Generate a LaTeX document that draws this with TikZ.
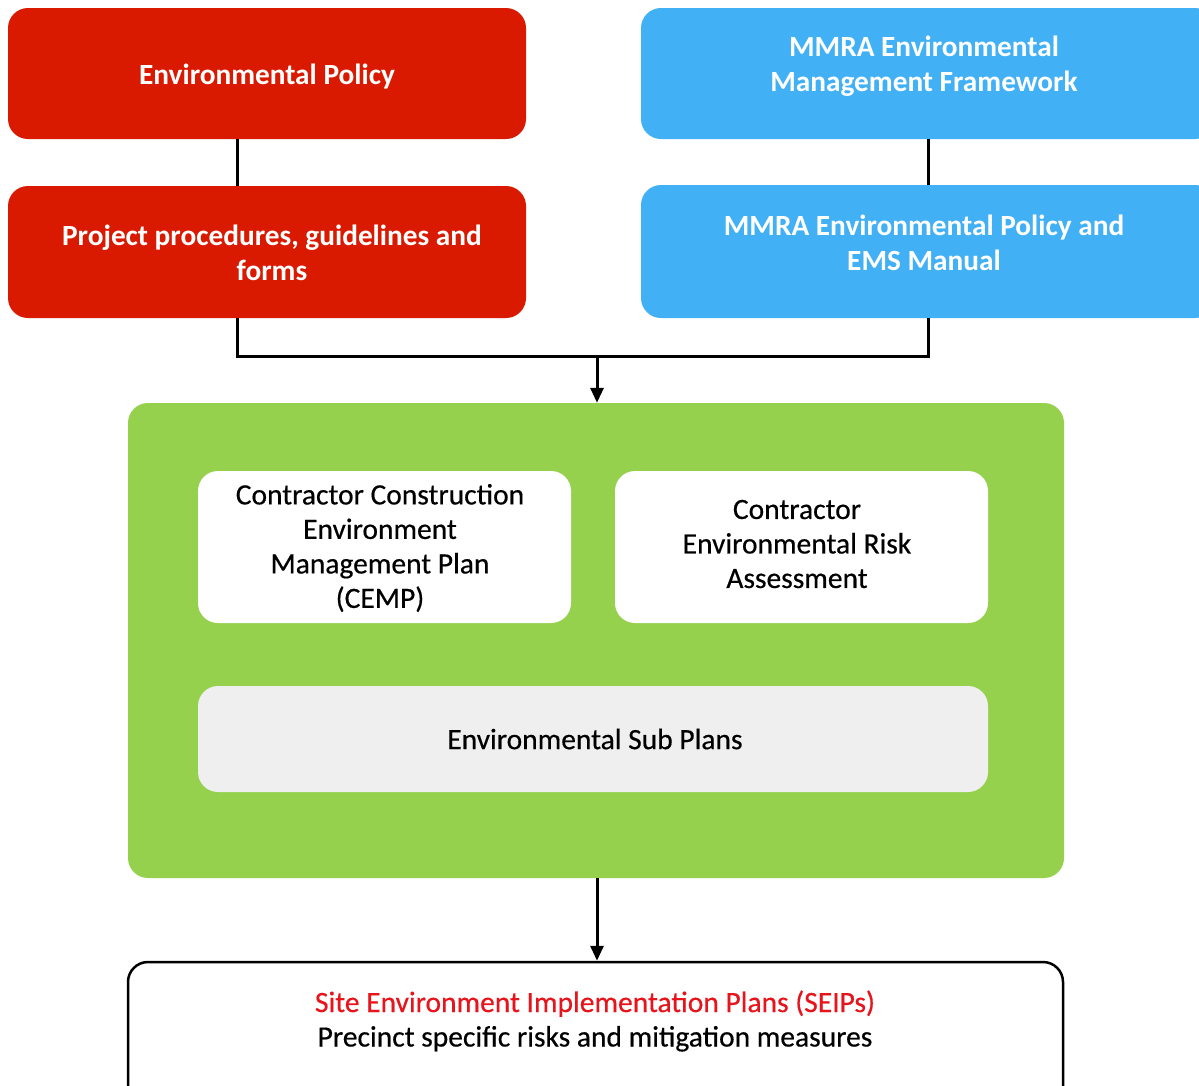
\documentclass[tikz,border=0pt]{standalone}
\usepackage{fontspec}
\setmainfont{Carlito}
\newfontfamily\bodyfont[FakeBold=0.45]{Carlito}
\usetikzlibrary{arrows.meta}
\definecolor{redbox}{HTML}{DA1A00}
\definecolor{bluebox}{HTML}{41B0F4}
\definecolor{greenbox}{HTML}{95D14C}
\definecolor{graybox}{HTML}{EFEFEF}
\definecolor{seipred}{HTML}{E8141C}
\tikzset{
  box/.style={rounded corners=20pt, inner sep=0pt, draw=none},
  hdr/.style={text=white, font=\fontsize{29.3}{34.8}\selectfont\bfseries, align=center, inner sep=0pt},
  body/.style={text=black, font=\bodyfont\fontsize{29.5}{34.5}\selectfont, align=center, inner sep=0pt},
  conn/.style={line width=3pt, black},
  arr/.style={line width=3pt, black, -{Triangle[width=13pt,length=15pt]}},
}
\begin{document}
\begin{tikzpicture}[x=1pt,y=-1pt]
\useasboundingbox (0,0) rectangle (1199,1085);
\clip (0,0) rectangle (1199,1085);
% top boxes
\node[box, fill=redbox, minimum width=518pt, minimum height=131pt] (r1) at (267,73.5) {};
\node[box, fill=redbox, minimum width=518pt, minimum height=132pt] (r2) at (267,252) {};
\node[box, fill=bluebox, minimum width=574pt, minimum height=131pt] (b1) at (928,73.5) {};
\node[box, fill=bluebox, minimum width=574pt, minimum height=133pt] (b2) at (928,251.5) {};
\node[hdr] (t1) at (267,77) {Environmental Policy};
\node[hdr] (t2) at (272,253) {Project procedures, guidelines and\\forms};
\node[hdr] (t3) at (924,66) {MMRA Environmental\\Management Framework};
\node[hdr] (t4) at (924,243) {MMRA Environmental Policy and\\EMS Manual};
% green container
\node[box, fill=greenbox, minimum width=936pt, minimum height=475pt] (g) at (596,640.5) {};
\node[box, fill=white, minimum width=373pt, minimum height=152pt] (w1) at (384.5,547) {};
\node[box, fill=white, minimum width=373pt, minimum height=152pt] (w2) at (801.5,547) {};
\node[box, fill=graybox, minimum width=790pt, minimum height=106pt] (gr) at (593,739) {};
\node[body] (t5) at (380,548) {Contractor Construction\\Environment\\Management Plan\\(CEMP)};
\node[body] (t6) at (797,544) {Contractor\\Environmental Risk\\Assessment};
\node[body] (t7) at (595,739) {Environmental Sub Plans};
% bottom box
\node[box, draw=black, line width=2.5pt, fill=white, minimum width=935pt, minimum height=150pt] (s) at (595.5,1037) {};
\node[body] (t8) at (595,1021) {\textcolor{seipred}{Site Environment Implementation Plans (SEIPs)}\\Precinct specific risks and mitigation measures};
% connectors
\coordinate (jn) at (597,356);
\draw[conn] ([xshift=-30pt]r1.south) -- ([xshift=-30pt]r2.north);
\draw[conn] (b1.south) -- (b2.north);
\draw[conn] ([xshift=-30pt]r2.south) |- (jn) -| (b2.south);
\draw[arr] (jn) -- (jn |- g.north);
\draw[arr] (g.south -| jn) -- (jn |- s.north);
\end{tikzpicture}
\end{document}
